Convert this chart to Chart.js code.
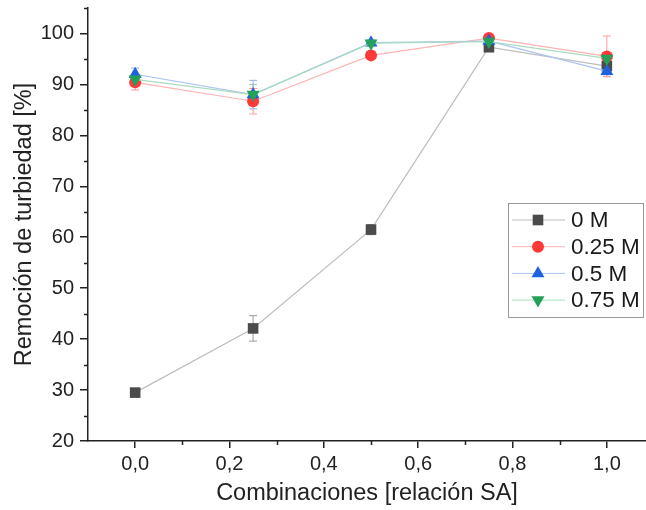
<!DOCTYPE html>
<html>
<head>
<meta charset="utf-8">
<script src="https://cdn.jsdelivr.net/npm/chart.js@4"></script>
<style>
  html, body { margin: 0; padding: 0; background: #fff; }
  #wrap { width: 646px; height: 510px; }
</style>
</head>
<body>
<div id="wrap"><canvas id="turbChart" width="646" height="510"></canvas></div>
<script>
// x values (relación SA) and tick labels
const ratios = [0, 0.25, 0.5, 0.75, 1.0];
const xTicks = [0, 0.2, 0.4, 0.6, 0.8, 1.0];
const xTickLabels = ['0,0', '0,2', '0,4', '0,6', '0,8', '1,0'];
const yTicks = [20, 30, 40, 50, 60, 70, 80, 90, 100];

// series (% removal) and their error bars
const seriesNames = ['0 M', '0.25 M', '0.5 M', '0.75 M'];
const m0 = [29.5, 42.1, 61.5, 97.3, 93.6];
const m025 = [90.4, 86.7, 95.7, 99.1, 95.5];
const m05 = [92.0, 88.0, 98.2, 98.5, 92.6];
const m075 = [91.0, 88.0, 98.1, 98.4, 95.1];
const m0Err = [0.6, 2.5, 1.0, 0.8, 0.8];
const m025Err = [1.5, 2.5, 0.5, 0.6, 4.0];
const m05Err = [1.2, 2.8, 0.5, 0.6, 1.0];
const m075Err = [0.8, 2.0, 0.5, 0.5, 0.8];

const toPoints = vals => vals.map((v, i) => ({ x: ratios[i], y: v }));

const errorBars = {
    id: 'errorBars',
    beforeDatasetsDraw(chart) {
        const ctx = chart.ctx;
        const x = chart.scales.x, y = chart.scales.y;
        chart.data.datasets.slice().reverse().forEach(ds => {
            ctx.save();
            ctx.strokeStyle = ds.errorColor;
            ctx.lineWidth = 1;
            ds.data.forEach((p, i) => {
                const e = ds.errors[i];
                const px = x.getPixelForValue(p.x);
                const top = y.getPixelForValue(p.y + e);
                const bot = y.getPixelForValue(p.y - e);
                ctx.beginPath();
                ctx.moveTo(px, top); ctx.lineTo(px, bot);
                ctx.moveTo(px - 4, top); ctx.lineTo(px + 4, top);
                ctx.moveTo(px - 4, bot); ctx.lineTo(px + 4, bot);
                ctx.stroke();
            });
            ctx.restore();
        });
    }
};

// minor ticks, Origin style (shorter, outward)
const minorTicks = {
    id: 'minorTicks',
    afterDraw(chart) {
        const ctx = chart.ctx;
        const x = chart.scales.x, y = chart.scales.y;
        const area = chart.chartArea;
        ctx.save();
        ctx.strokeStyle = '#222';
        ctx.lineWidth = 1.5;
        ctx.beginPath();
        [0.1, 0.3, 0.5, 0.7, 0.9].forEach(v => {
            const px = Math.round(x.getPixelForValue(v)) + 0.5;
            ctx.moveTo(px, area.bottom); ctx.lineTo(px, area.bottom + 4);
        });
        [25, 35, 45, 55, 65, 75, 85, 95, 105].forEach(v => {
            const py = Math.round(y.getPixelForValue(v)) + 0.5;
            ctx.moveTo(area.left, py); ctx.lineTo(area.left - 4, py);
        });
        ctx.stroke();
        ctx.restore();
    }
};

// legend box drawn inside plot, like the original
const boxLegend = {
    id: 'boxLegend',
    afterDraw(chart) {
        const ctx = chart.ctx;
        const left = 508, top = 203, w = 135, h = 114;
        ctx.save();
        ctx.fillStyle = '#fff';
        ctx.fillRect(left, top, w, h);
        ctx.strokeStyle = '#999';
        ctx.lineWidth = 1;
        ctx.strokeRect(left + 0.5, top + 0.5, w, h);
        chart.data.datasets.forEach((ds, i) => {
            const cy = top + 17 + i * 26.7;
            ctx.strokeStyle = ds.borderColor;
            ctx.lineWidth = 1;
            ctx.beginPath();
            ctx.moveTo(512, cy); ctx.lineTo(565, cy);
            ctx.stroke();
            ctx.fillStyle = ds.pointBackgroundColor;
            ctx.strokeStyle = ds.pointBackgroundColor;
            Chart.helpers.drawPoint(ctx, {
                pointStyle: ds.pointStyle,
                radius: ds.pointRadius,
                rotation: ds.pointRotation || 0,
                borderWidth: 0
            }, 538, cy);
            ctx.fillStyle = '#1a1a1a';
            ctx.font = '22.5px "Liberation Sans", Arial, sans-serif';
            ctx.textBaseline = 'middle';
            ctx.fillText(seriesNames[i], 571, cy + 1);
        });
        ctx.restore();
    }
};

function makeSet(i, vals, errs, line, marker, errColor, style, radius, rot, order) {
    return {
        label: seriesNames[i],
        data: toPoints(vals),
        errors: errs,
        errorColor: errColor,
        borderColor: line,
        borderWidth: 1.2,
        pointStyle: style,
        pointRadius: radius,
        pointHoverRadius: radius,
        pointRotation: rot,
        pointBackgroundColor: marker,
        pointBorderColor: marker,
        pointBorderWidth: 0,
        tension: 0,
        fill: false,
        clip: false,
        order: order
    };
}

const datasets = [
    makeSet(0, m0, m0Err, '#bdbdbd', '#4b4b4b', '#9a9a9a', 'rect', 7.5, 0, 4),
    makeSet(1, m025, m025Err, '#ffb3b3', '#ff3838', '#ff9a9a', 'circle', 6, 0, 3),
    makeSet(2, m05, m05Err, '#abc4f2', '#1f62e0', '#8fb0ee', 'triangle', 7.5, 0, 2),
    makeSet(3, m075, m075Err, '#a9dcc1', '#24a05a', '#8fd1ad', 'triangle', 7.5, 180, 1)
];

const tickFont = { family: '"Liberation Sans", Arial, sans-serif', size: 20 };
const titleFont = { family: '"Liberation Sans", Arial, sans-serif', size: 23.5 };

new Chart(document.getElementById('turbChart').getContext('2d'), {
    type: 'line',
    data: { datasets },
    options: {
        responsive: false,
        animation: false,
        layout: { autoPadding: false, padding: { top: 8, right: 0, left: 0, bottom: 0 } },
        scales: {
            x: {
                type: 'linear',
                min: -0.1,
                max: 1.083,
                afterFit: s => { s.height = 69; s.paddingLeft = 0; s.paddingRight = 0; },
                afterBuildTicks: s => { s.ticks = xTicks.map(v => ({ value: v })); },
                grid: { drawOnChartArea: false, drawTicks: true, tickLength: 7, color: '#222', lineWidth: 1.5 },
                border: { display: true, color: '#222', width: 1.5 },
                ticks: {
                    font: tickFont,
                    color: '#222',
                    padding: 4,
                    maxRotation: 0,
                    callback: (v) => xTickLabels[xTicks.findIndex(t => Math.abs(t - v) < 1e-6)]
                },
                title: { display: true, text: 'Combinaciones [relación SA]', font: titleFont, color: '#222', padding: { top: 0, bottom: 2 } }
            },
            y: {
                min: 20,
                max: 105,
                afterFit: s => { s.width = 88; s.paddingTop = 0; s.paddingBottom = 0; },
                afterBuildTicks: s => { s.ticks = yTicks.map(v => ({ value: v })); },
                grid: { drawOnChartArea: false, drawTicks: true, tickLength: 8, color: '#222', lineWidth: 1.5 },
                border: { display: true, color: '#222', width: 1.5 },
                ticks: { font: tickFont, color: '#222', padding: 6 },
                title: { display: true, text: 'Remoción de turbiedad [%]', font: titleFont, color: '#222', padding: { top: 10, bottom: 0 } }
            }
        },
        plugins: {
            legend: { display: false },
            tooltip: { enabled: false }
        }
    },
    plugins: [errorBars, minorTicks, boxLegend]
});
</script>
</body>
</html>
